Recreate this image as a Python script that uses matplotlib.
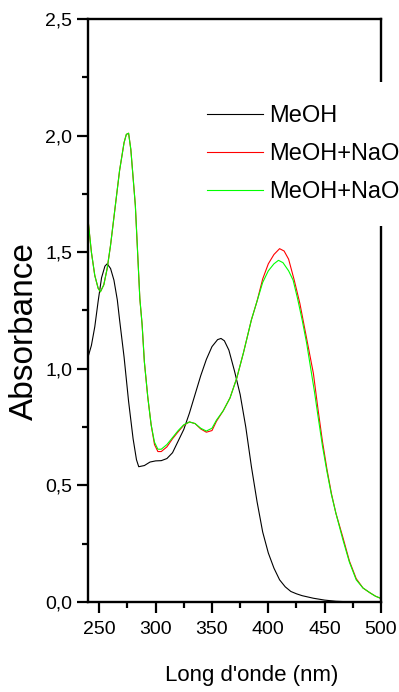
import matplotlib
matplotlib.use("Agg")
import matplotlib.pyplot as plt
from matplotlib.ticker import MultipleLocator, FuncFormatter

# MeOH spectrum (black)
WL_MEOH = [240, 243, 246, 249, 252, 255, 257, 260, 263, 266, 268, 272, 276, 280,
           283, 285, 290, 295, 300, 305, 310, 315, 320, 325, 330, 335, 340, 345,
           350, 355, 358, 361, 365, 370, 375, 380, 385, 390, 395, 400, 405, 410,
           415, 420, 425, 430, 440, 450, 460, 470, 480, 500]
ABS_MEOH = [1.05, 1.10, 1.18, 1.29, 1.39, 1.44, 1.45, 1.43, 1.38, 1.295, 1.21,
            1.05, 0.86, 0.70, 0.61, 0.58, 0.585, 0.60, 0.605, 0.606, 0.615,
            0.64, 0.69, 0.74, 0.81, 0.89, 0.97, 1.04, 1.095, 1.125, 1.13, 1.12,
            1.08, 0.99, 0.89, 0.75, 0.58, 0.43, 0.30, 0.21, 0.145, 0.095, 0.065,
            0.045, 0.035, 0.027, 0.016, 0.008, 0.003, 0.001, 0.0, 0.0]

# MeOH + NaOH spectrum (red)
WL_NAOH_1 = [240, 243, 246, 249, 251, 254, 257, 260, 264, 268, 272, 274, 276,
             278, 280, 282, 284, 286, 288, 290, 293, 296, 299, 302, 305, 310,
             315, 320, 325, 330, 335, 340, 345, 350, 354, 360, 366, 372, 378,
             385, 390, 395, 400, 405, 410, 414, 418, 423, 428, 432, 436, 440,
             444, 448, 452, 456, 460, 466, 472, 478, 484, 490, 495, 500]
ABS_NAOH_1 = [1.64, 1.50, 1.40, 1.345, 1.33, 1.36, 1.43, 1.53, 1.69, 1.85, 1.97,
              2.005, 2.01, 1.94, 1.82, 1.70, 1.50, 1.30, 1.19, 1.03, 0.88,
              0.76, 0.675, 0.645, 0.645, 0.665, 0.70, 0.73, 0.758, 0.772,
              0.765, 0.742, 0.728, 0.735, 0.775, 0.82, 0.875, 0.96, 1.07, 1.21,
              1.29, 1.385, 1.45, 1.49, 1.515, 1.505, 1.47, 1.38, 1.28, 1.18,
              1.08, 0.98, 0.83, 0.69, 0.57, 0.465, 0.38, 0.28, 0.175, 0.10,
              0.06, 0.04, 0.025, 0.015]

# MeOH + NaOH spectrum (green)
WL_NAOH_2 = [240, 243, 246, 249, 251, 254, 257, 260, 264, 268, 272, 274, 276,
             278, 280, 282, 284, 286, 288, 290, 293, 296, 299, 302, 305, 310,
             315, 320, 325, 330, 335, 340, 345, 350, 354, 360, 366, 372, 378,
             385, 390, 395, 400, 405, 409, 413, 418, 422, 426, 430, 434, 437,
             441, 444, 448, 452, 456, 460, 466, 472, 478, 484, 490, 495, 500]
ABS_NAOH_2 = [1.64, 1.50, 1.40, 1.345, 1.33, 1.36, 1.43, 1.53, 1.69, 1.85, 1.97,
              2.005, 2.01, 1.94, 1.82, 1.70, 1.50, 1.30, 1.19, 1.03, 0.88,
              0.76, 0.685, 0.655, 0.655, 0.675, 0.705, 0.735, 0.76, 0.772,
              0.765, 0.745, 0.733, 0.745, 0.78, 0.82, 0.875, 0.96, 1.07, 1.21,
              1.29, 1.37, 1.42, 1.45, 1.465, 1.455, 1.42, 1.38, 1.30, 1.21,
              1.11, 1.02, 0.90, 0.80, 0.67, 0.56, 0.46, 0.38, 0.27, 0.17,
              0.095, 0.06, 0.04, 0.025, 0.015]

LABELS = ["MeOH", "MeOH+NaOH", "MeOH+NaOH"]
COLORS = ["#000000", "#ff0000", "#00ff00"]

FONT = ["Liberation Sans", "DejaVu Sans"]


def comma_fmt(v, pos):
    return f"{v:.1f}".replace(".", ",")


def main() -> None:
    fig = plt.figure(figsize=(3.99, 6.92), dpi=100)
    ax = fig.add_axes([0.2206, 0.1301, 0.7343, 0.8425])

    series = [(WL_MEOH, ABS_MEOH), (WL_NAOH_1, ABS_NAOH_1), (WL_NAOH_2, ABS_NAOH_2)]
    for (x, y), lab, col in zip(series, LABELS, COLORS):
        ax.plot(x, y, color=col, lw=0.8, label=lab)

    ax.set_xlim(240, 500)
    ax.set_ylim(0, 2.5)
    ax.xaxis.set_major_locator(MultipleLocator(50))
    ax.xaxis.set_minor_locator(MultipleLocator(25))
    ax.yaxis.set_major_locator(MultipleLocator(0.5))
    ax.yaxis.set_minor_locator(MultipleLocator(0.25))
    ax.yaxis.set_major_formatter(FuncFormatter(comma_fmt))

    for sp in ax.spines.values():
        sp.set_linewidth(1.7)
    ax.tick_params(which="both", direction="out", width=1.6, top=False, right=False)
    ax.tick_params(which="major", length=8)
    ax.tick_params(which="minor", length=4)
    ax.tick_params(axis="x", which="major", pad=6)
    ax.tick_params(axis="y", which="major", pad=3.5)
    for t in ax.get_xticklabels() + ax.get_yticklabels():
        t.set_family(FONT)
        t.set_fontsize(14)

    ax.set_xlabel("Long d'onde (nm)", family=FONT, fontsize=16, va="top")
    ax.xaxis.set_label_coords(0.559, -0.108)
    ax.set_ylabel("Absorbance", family=FONT, fontsize=24)
    ax.yaxis.set_label_coords(-0.164, 0.465)

    # white legend box hides the right spine behind it, like the original
    leg = ax.legend(loc="upper left", bbox_to_anchor=(0.328, 0.892),
                    borderaxespad=0, frameon=True, fancybox=False,
                    facecolor="white", edgecolor="none", framealpha=1,
                    handlelength=2.35, handletextpad=0.3, labelspacing=0.68,
                    borderpad=0.97, prop={"family": FONT, "size": 17})
    leg.set_zorder(10)

    fig.savefig("out.png", dpi=100)


if __name__ == "__main__":
    main()
